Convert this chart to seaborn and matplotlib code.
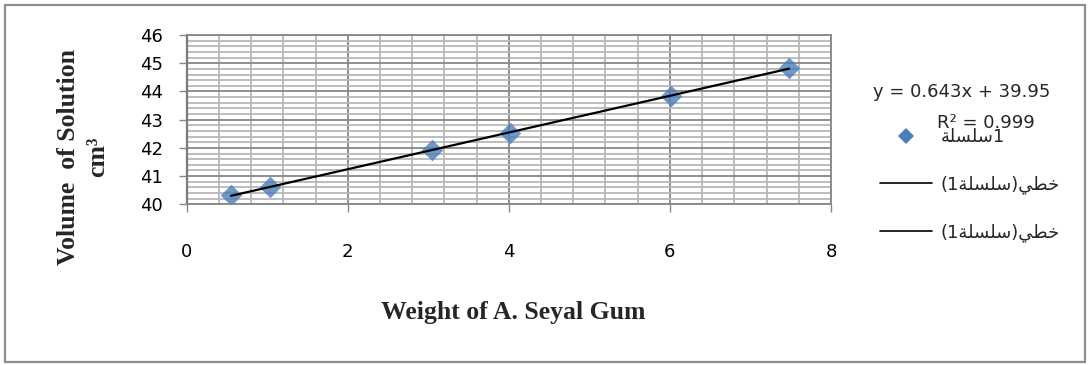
import matplotlib
matplotlib.use("Agg")
import matplotlib.pyplot as plt
from matplotlib.patches import Rectangle
from matplotlib.lines import Line2D
from matplotlib.ticker import MultipleLocator
import seaborn as sns
import pandas as pd

# ---- data ----
weight = [0.55, 1.04, 3.04, 4.01, 6.01, 7.48]
volume = [40.32, 40.61, 41.92, 42.53, 43.85, 44.82]
x_ticks = [0, 2, 4, 6, 8]
y_ticks = [40, 41, 42, 43, 44, 45, 46]
equation_text = "y = 0.643x + 39.95"
r2_text = "R\u00b2 = 0.999"
x_label = "Weight of A. Seyal Gum"
y_label = "Volume  of Solution\ncm\u00b3"
# Arabic legend labels, given in visual (shaped) order
series_label = "\uFE94\uFEE0\uFEB4\uFEE0\uFEB3" + "1"
trend_label = "(1" + "\uFE94\uFEE0\uFEB4\uFEE0\uFEB3" + ")" + "\uFEF2\uFEC4\uFEA7"

df = pd.DataFrame({"weight": weight, "volume": volume})

sns.set_style("white")
plt.rcParams["font.family"] = ["DejaVu Sans"]

BLUE = "#4A7EBB"
MAJOR = "#878787"
MINOR = "#b8b8b8"

fig = plt.figure(figsize=(10.9, 3.65), dpi=100)
W, H = 1090, 365
ax = fig.add_axes([186.7 / W, 1 - 204.3 / H, (831 - 186.7) / W, (204.3 - 35) / H])

sns.regplot(data=df, x="weight", y="volume", ci=None, marker="D", ax=ax,
            scatter_kws=dict(s=120, color=BLUE, linewidths=0),
            line_kws=dict(color="black", lw=1.6))

ax.set_xlim(0, 8)
ax.set_ylim(40, 46)
ax.set_xticks(x_ticks)
ax.set_yticks(y_ticks)
ax.xaxis.set_minor_locator(MultipleLocator(0.4))
ax.yaxis.set_minor_locator(MultipleLocator(0.2))
ax.set_axisbelow(True)
ax.grid(which="minor", color=MINOR, lw=1.3)
ax.grid(which="major", color=MAJOR, lw=1.3)
ax.tick_params(which="minor", length=0)
ax.tick_params(axis="y", which="major", direction="out", length=6, width=1,
               color=MAJOR, pad=11, labelsize=13, labelcolor="black", left=True)
ax.tick_params(axis="x", which="major", direction="out", length=6, width=1,
               color=MAJOR, pad=22, labelsize=13, labelcolor="black", bottom=True)
for s in ax.spines.values():
    s.set_color(MAJOR)
    s.set_linewidth(1.3)
ax.spines["left"].set_color("#7a7a7a")
ax.spines["left"].set_linewidth(1.6)
ax.set_xlabel("")
ax.set_ylabel("")

fig.text(513 / W, 1 - 312 / H, x_label, ha="center", va="center",
         family="Liberation Serif", weight="bold", fontsize=18.5)
fig.text(83 / W, 1 - 157 / H, y_label, ha="center", va="center", rotation=90,
         family="Liberation Serif", weight="bold", fontsize=18.5, linespacing=1.35,
         multialignment="center")

fig.text(962 / W, 1 - 92 / H, equation_text, ha="center", va="center", fontsize=13)
fig.text(986 / W, 1 - 123 / H, r2_text, ha="center", va="center", fontsize=13)

handles = [Line2D([], [], marker="D", ls="none", color=BLUE, markersize=8.5, markeredgewidth=0),
           Line2D([], [], color="black", lw=1.2),
           Line2D([], [], color="black", lw=1.2)]
labels = [series_label, trend_label, trend_label]
fig.legend(handles, labels, loc="center left", bbox_to_anchor=(880 / W, 1 - 185 / H),
           frameon=False, borderpad=0, borderaxespad=0,
           handlelength=2.9, handletextpad=0.45, labelspacing=1.63,
           prop={"family": ["DejaVu Sans"], "size": 13})

fig.patches.append(Rectangle((5 / W, 3 / H), 1080 / W, 357 / H, transform=fig.transFigure,
                             fill=False, edgecolor="#8c8c8c", lw=1.6))

fig.savefig("out.png", dpi=100)
